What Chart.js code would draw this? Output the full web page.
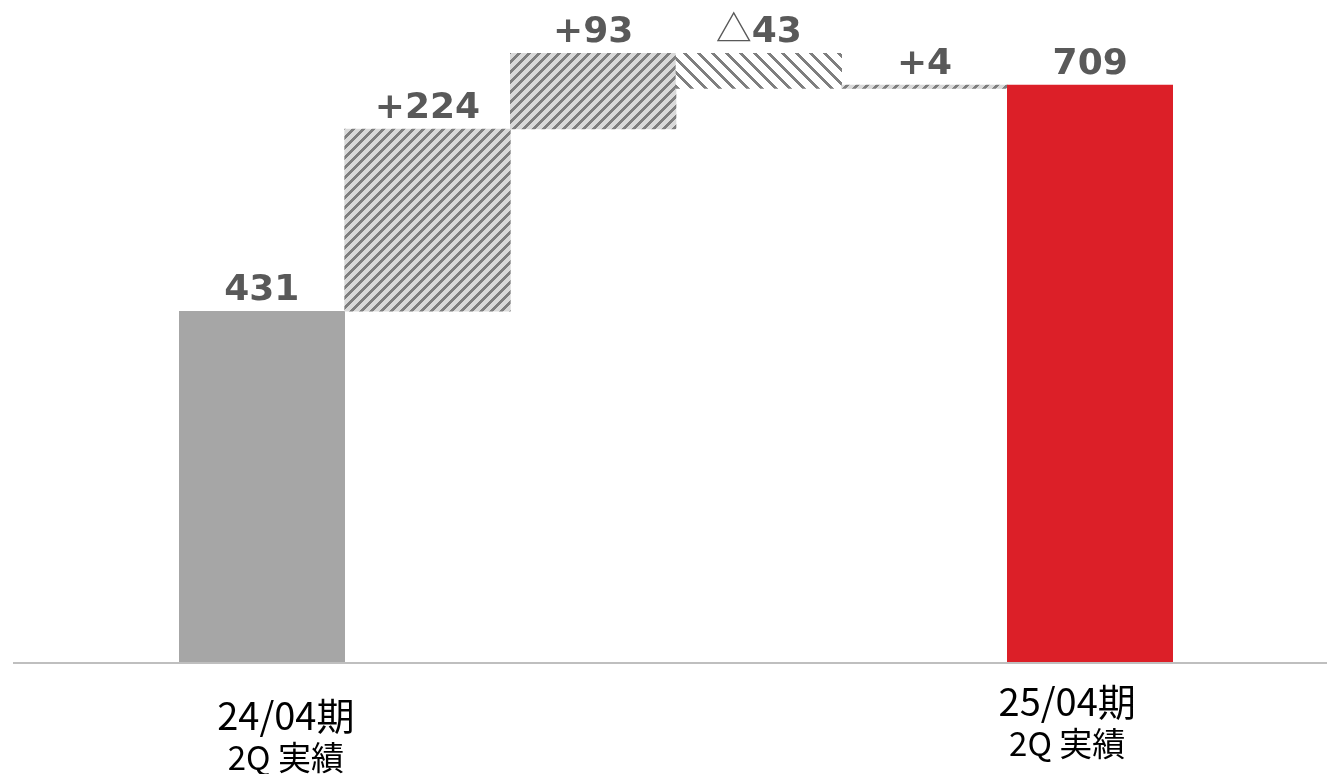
<!DOCTYPE html>
<html>
<head>
<meta charset="utf-8">
<script src="https://cdn.jsdelivr.net/npm/chart.js@4"></script>
<style>
  html, body { margin: 0; padding: 0; background: #fff; }
  #wrap { width: 1327px; height: 774px; position: relative; }
</style>
</head>
<body>
<div id="wrap"><canvas id="bridge"></canvas></div>
<script>
// --- datos del puente ---
const categories = [['24/04期', '2Q 実績'], '', '', '', '', ['25/04期', '2Q 実績']];
const startValue = 431;
const deltas = [224, 93, -43, 4];
const endValue = 709;
const valueLabels = ['431', '+224', '+93', '△43', '+4', '709'];

// --- patrones rayados ---
function stripePattern(period, width, bg, fg, dir) {
    const c = document.createElement('canvas');
    c.width = period; c.height = period;
    const g = c.getContext('2d');
    g.fillStyle = bg;
    g.fillRect(0, 0, period, period);
    g.fillStyle = fg;
    for (let x = 0; x < period; x++) {
        for (let y = 0; y < period; y++) {
            const k = dir === '/' ? (x + y) : (x - y + period * 4);
            if (k % period < width) g.fillRect(x, y, 1, 1);
        }
    }
    return g.createPattern(c, 'repeat');
}

const patUp = stripePattern(10, 4, '#d9d9d9', '#7f7f7f', '/');
const patDown = stripePattern(14, 4, '#ffffff', '#7f7f7f', '\\');

// barras flotantes: [inicio, fin]
const floats = [[0, startValue]];
let run = startValue;
deltas.forEach(d => {
    floats.push([run, run + d]);
    run += d;
});
floats.push([0, endValue]);

const barColors = ['#a6a6a6', patUp, patUp, patDown, patUp, '#dc1f28'];

const LABEL_FONT = 'bold 36px "DejaVu Sans"';
const TRI_FONT = '36px "Noto Sans CJK JP"';

// --- etiquetas de valor sobre cada barra ---
const valueLabelPlugin = {
    id: 'valueLabels',
    afterDatasetsDraw(chart) {
        const ctx = chart.ctx;
        const meta = chart.getDatasetMeta(0);
        const y = chart.scales.y;
        ctx.save();
        ctx.fillStyle = '#595959';
        ctx.textBaseline = 'alphabetic';
        meta.data.forEach((bar, i) => {
            const top = y.getPixelForValue(Math.max(...floats[i]));
            const yy = top - 11;
            const txt = valueLabels[i];
            if (txt.startsWith('△')) {
                const tri = '△', rest = txt.slice(1);
                ctx.font = TRI_FONT;
                const w1 = ctx.measureText(tri).width;
                ctx.font = LABEL_FONT;
                const w2 = ctx.measureText(rest).width;
                const x0 = bar.x - (w1 + w2) / 2;
                ctx.textAlign = 'left';
                ctx.font = TRI_FONT;
                ctx.fillText(tri, x0, yy);
                ctx.font = LABEL_FONT;
                ctx.fillText(rest, x0 + w1, yy);
            } else {
                ctx.textAlign = 'center';
                ctx.font = LABEL_FONT;
                ctx.fillText(txt, bar.x, yy);
            }
        });
        ctx.restore();
    }
};

// --- línea base y rótulos del eje x ---
const axisPlugin = {
    id: 'baseAxis',
    afterDraw(chart) {
        const ctx = chart.ctx;
        const x = chart.scales.x;
        const base = chart.scales.y.getPixelForValue(0);
        ctx.save();
        ctx.strokeStyle = '#bfbfbf';
        ctx.lineWidth = 2;
        ctx.beginPath();
        ctx.moveTo(13, base + 1);
        ctx.lineTo(chart.width, base + 1);
        ctx.stroke();

        ctx.fillStyle = '#000';
        ctx.textAlign = 'center';
        ctx.textBaseline = 'middle';
        categories.forEach((lab, i) => {
            if (!Array.isArray(lab)) return;
            const first = i === 0;
            const cx = x.getPixelForValue(i) + (first ? 24 : -23);
            const dy = first ? 0 : -14;
            ctx.font = '38px "Noto Sans CJK JP"';
            ctx.fillText(lab[0], cx, base + 54 + dy);
            ctx.font = '33px "Noto Sans CJK JP"';
            ctx.fillText(lab[1], cx, base + 95 + dy);
        });
        ctx.restore();
    }
};

new Chart(document.getElementById('bridge').getContext('2d'), {
    type: 'bar',
    data: {
        labels: categories,
        datasets: [{
            data: floats,
            backgroundColor: barColors,
            borderWidth: 0,
            barPercentage: 1,
            categoryPercentage: 1
        }]
    },
    options: {
        responsive: true, maintainAspectRatio: false,
        animation: false,
        layout: { padding: { left: 179, right: 154, top: 11, bottom: 112 } },
        plugins: { legend: { display: false }, tooltip: { enabled: false } },
        scales: {
            x: { display: false },
            y: { display: false, min: 0, max: 800 }
        }
    },
    plugins: [valueLabelPlugin, axisPlugin]
});
</script>
</body>
</html>
